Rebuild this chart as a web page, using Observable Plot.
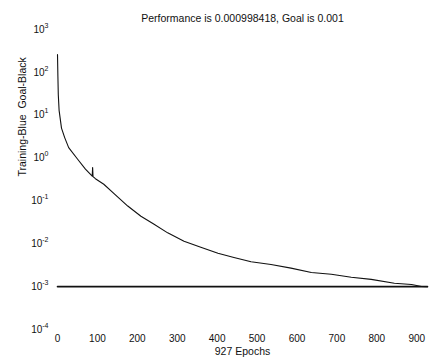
<!DOCTYPE html>
<html>
<head>
<meta charset="utf-8">
<script src="https://cdn.jsdelivr.net/npm/d3@7"></script>
<script src="https://cdn.jsdelivr.net/npm/@observablehq/plot@0.6"></script>
<style>
  html, body { margin: 0; padding: 0; background: white; }
</style>
</head>
<body>
<div id="chart"></div>
<script>
// Training performance
const epochs = [0, 1, 2, 4, 10, 18, 28, 50, 70, 87, 88, 89, 95, 116, 141, 176, 209, 241, 276, 317, 359, 402, 442, 485, 535, 585, 636, 686, 736, 786, 844, 887, 912, 927];
const performance = [260, 80, 30, 13, 5, 3, 1.75, 0.95, 0.55, 0.38, 0.6, 0.37, 0.33, 0.245, 0.15, 0.076, 0.044, 0.029, 0.018, 0.0115, 0.0083, 0.006, 0.0048, 0.0038, 0.0033, 0.0027, 0.00214, 0.00195, 0.00166, 0.00148, 0.0012, 0.00112, 0.00101, 0.000998418];
// Goal line
const goalEpochs = [0, 927];
const goalValues = [0.001, 0.001];
// Axis ticks
const xTicks = [0, 100, 200, 300, 400, 500, 600, 700, 800, 900];
const yTicks = [1e3, 1e2, 1e1, 1e0, 1e-1, 1e-2, 1e-3, 1e-4];
// Texts
const titleText = "Performance is 0.000998418, Goal is 0.001";
const xLabel = "927 Epochs";
const yLabel = "Training-Blue  Goal-Black";

const training = epochs.map((e, i) => ({epoch: e, value: performance[i]}));
const goal = goalEpochs.map((e, i) => ({epoch: e, value: goalValues[i]}));

const svg = Plot.plot({
  width: 432,
  height: 362,
  marginTop: 29,
  marginBottom: 33,
  marginLeft: 57,
  marginRight: 5,
  style: {fontFamily: "'Liberation Sans', Arial, sans-serif", fontSize: "10px", background: "white", color: "#111"},
  x: {domain: [0, 927]},
  y: {type: "log", domain: [1e-4, 1e3]},
  marks: [
    Plot.axisX({ticks: xTicks, tickSize: 0, tickPadding: 5, label: null, fontSize: 10}),
    Plot.axisY({ticks: yTicks, tickSize: 0, tickPadding: 9, label: null, fontSize: 10,
      tickFormat: d => String(Math.round(Math.log10(d)))}),
    Plot.line(goal, {x: "epoch", y: "value", stroke: "#111", strokeWidth: 1.6}),
    Plot.line(training, {x: "epoch", y: "value", stroke: "#111", strokeWidth: 1.1}),
    Plot.text([titleText], {text: d => d, frameAnchor: "top", dy: -15, fontSize: 10.5, fill: "#111"}),
    Plot.text([xLabel], {text: d => d, frameAnchor: "bottom", dy: 25, fontSize: 10.5, fill: "#111"}),
    Plot.text([yLabel], {text: d => d, frameAnchor: "left", dx: -35, dy: -3, rotate: -90, fontSize: 10.5, fill: "#111"})
  ]
});

// Render tick labels as 10 with a raised exponent
d3.select(svg).selectAll('g[aria-label="y-axis tick label"] text').each(function() {
  const exp = this.textContent.trim();
  const t = d3.select(this);
  t.text(null);
  t.append("tspan").text("10");
  t.append("tspan").attr("dy", "-5").attr("font-size", "7").text(exp);
});

document.getElementById("chart").appendChild(svg);
</script>
</body>
</html>
